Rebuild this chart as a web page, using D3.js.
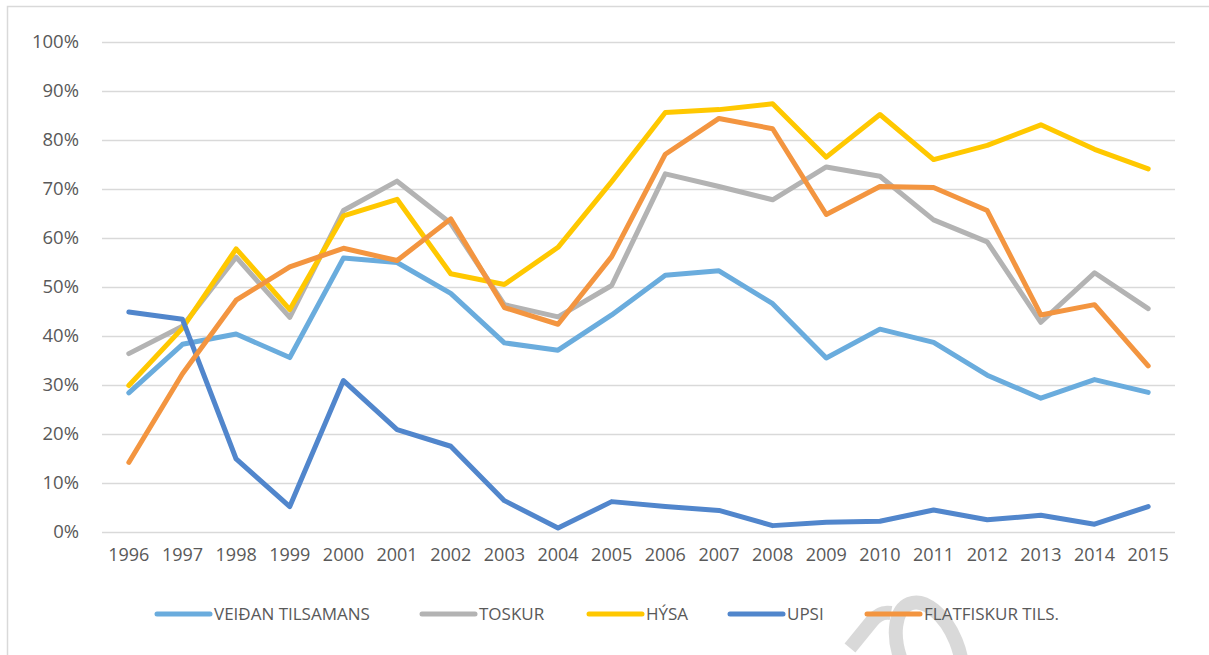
<!DOCTYPE html>
<html>
<head>
<meta charset="utf-8">
<script src="https://cdn.jsdelivr.net/npm/d3@7"></script>
<style>
  body { margin: 0; background: #fff; }
  text { font-family: "Open Sans", "Noto Sans", sans-serif; fill: #595959; }
</style>
</head>
<body>
<div id="container"></div>
<script>
// Data (share, %)
const years = ['1996','1997','1998','1999','2000','2001','2002','2003','2004','2005',
               '2006','2007','2008','2009','2010','2011','2012','2013','2014','2015'];

const veidan = [28.4, 38.3, 40.4, 35.6, 55.9, 55.0, 48.7, 38.6, 37.1, 44.3,
                52.4, 53.3, 46.6, 35.5, 41.4, 38.7, 32.0, 27.3, 31.1, 28.5];
const toskur = [36.4, 42.0, 56.1, 43.8, 65.6, 71.6, 63.0, 46.4, 43.9, 50.3,
                73.1, 70.5, 67.8, 74.5, 72.6, 63.7, 59.2, 42.8, 52.9, 45.6];
const hysa   = [29.9, 41.6, 57.8, 45.4, 64.5, 67.9, 52.7, 50.5, 58.1, 71.5,
                85.6, 86.2, 87.4, 76.5, 85.2, 76.0, 78.9, 83.1, 78.1, 74.1];
const upsi   = [44.9, 43.4, 14.9, 5.2, 30.9, 20.9, 17.5, 6.4, 0.8, 6.2,
                5.2, 4.4, 1.3, 2.0, 2.2, 4.5, 2.5, 3.4, 1.6, 5.2];
const flatfiskur = [14.2, 32.3, 47.3, 54.1, 57.9, 55.4, 63.9, 45.8, 42.4, 56.2,
                    77.1, 84.4, 82.3, 64.8, 70.5, 70.3, 65.6, 44.3, 46.4, 33.9];

const seriesNames = ['VEIÐAN TILSAMANS', 'TOSKUR', 'HÝSA', 'UPSI', 'FLATFISKUR TILS.'];
const seriesColors = ['#6AACDD', '#B3B3B3', '#FFC800', '#5186CC', '#F39540'];
const yTicks = [0, 10, 20, 30, 40, 50, 60, 70, 80, 90, 100];

const series = [veidan, toskur, hysa, upsi, flatfiskur].map((vals, i) => ({
    name: seriesNames[i], color: seriesColors[i], values: vals
}));

const width = 1209;
const height = 655;
const margin = { top: 42, right: 34, bottom: 123, left: 102 };

const svg = d3.select('#container').append('svg')
    .attr('width', width)
    .attr('height', height);

// chart frame
svg.append('rect')
    .attr('x', 7.5).attr('y', 6.5)
    .attr('width', width + 10).attr('height', height + 10)
    .attr('fill', 'none')
    .attr('stroke', '#d9d9d9')
    .attr('stroke-width', 1.5);

const x = d3.scaleBand()
    .domain(years)
    .range([margin.left, width - margin.right]);

const y = d3.scaleLinear()
    .domain([0, 100])
    .range([height - margin.bottom, margin.top]);

// gridlines + y labels
svg.append('g')
    .attr('transform', `translate(${margin.left},0)`)
    .call(d3.axisLeft(y)
        .tickValues(yTicks)
        .tickSize(-(width - margin.left - margin.right))
        .tickPadding(23)
        .tickFormat(d => d + '%'))
    .call(g => g.select('.domain').remove())
    .call(g => g.selectAll('.tick line').attr('stroke', '#d9d9d9').attr('stroke-width', 1.6))
    .call(g => g.selectAll('.tick text').attr('font-size', 18.5).attr('fill', '#595959'));

// x labels
svg.append('g')
    .attr('transform', `translate(0,${height - margin.bottom})`)
    .call(d3.axisBottom(x).tickSize(0).tickPadding(16))
    .call(g => g.select('.domain').remove())
    .call(g => g.selectAll('.tick text').attr('font-size', 18).attr('fill', '#595959'));

// faint watermark at the bottom edge (drawn under the legend)
const mark = svg.append('g')
    .attr('fill', 'none')
    .attr('stroke', '#cfcfcf')
    .attr('stroke-opacity', 0.8)
    .attr('stroke-width', 14);
mark.append('ellipse')
    .attr('cx', 929).attr('cy', 652)
    .attr('rx', 29).attr('ry', 52)
    .attr('transform', 'rotate(-22 929 652)');
mark.append('path')
    .attr('d', 'M 850 648 L 872 621 Q 880 611 891 613');

const line = d3.line()
    .x((d, i) => x(years[i]) + x.bandwidth() / 2)
    .y(d => y(d));

svg.append('g')
    .selectAll('path')
    .data(series)
    .join('path')
    .attr('fill', 'none')
    .attr('stroke', d => d.color)
    .attr('stroke-width', 5)
    .attr('stroke-linejoin', 'round')
    .attr('stroke-linecap', 'round')
    .attr('d', d => line(d.values));

// legend
const legendX = [155, 420, 587, 728, 865];
const legend = svg.append('g').attr('transform', 'translate(0,614)');
const item = legend.selectAll('g')
    .data(series)
    .join('g')
    .attr('transform', (d, i) => `translate(${legendX[i]},0)`);

item.append('line')
    .attr('x1', 2).attr('x2', 55)
    .attr('stroke', d => d.color)
    .attr('stroke-width', 5)
    .attr('stroke-linecap', 'round');

item.append('text')
    .attr('x', 59)
    .attr('dy', '0.36em')
    .attr('font-size', 17)
    .attr('fill', '#595959')
    .text(d => d.name);
</script>
</body>
</html>
